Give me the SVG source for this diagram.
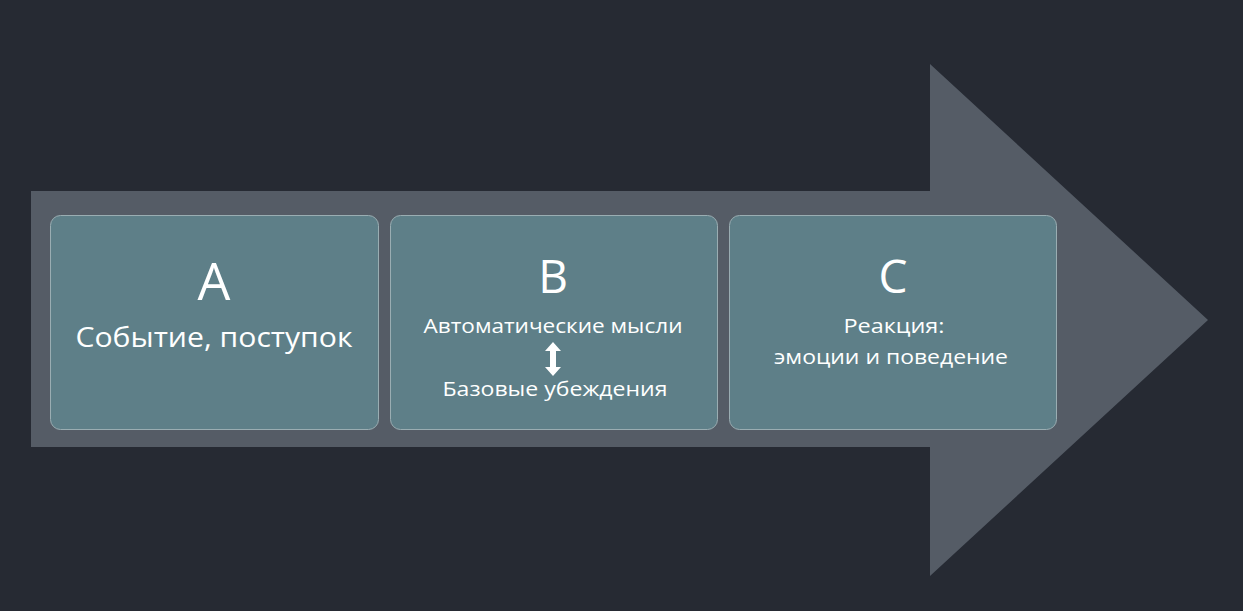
<svg xmlns="http://www.w3.org/2000/svg" width="1243" height="611" viewBox="0 0 1243 611">
<style>
.box{fill:#5e7f88;stroke:#9aadb2;stroke-width:1}
.t{fill:#ffffff;font-family:"Open Sans","Noto Sans",sans-serif;text-anchor:middle}
.bigA{font-size:52px}
.big{font-size:46px}
.mid{font-size:28px}
.sm{font-size:20px}
</style>
<rect width="1243" height="611" fill="#262a33"/>
<g id="bigArrow">
<polygon points="31,191 930,191 930,64 1208,320 930,576 930,447 31,447" fill="#555c66"/>
</g>
<g id="nodeA">
<rect class="box" x="50.5" y="215.5" width="328" height="214" rx="10"/>
<text class="t bigA" x="214" y="300">A</text>
<text class="t mid" x="214" y="347" textLength="277" lengthAdjust="spacingAndGlyphs">Событие, поступок</text>
</g>
<g id="nodeB">
<rect class="box" x="390.5" y="215.5" width="327" height="214" rx="10"/>
<text class="t big" x="553" y="293">B</text>
<text class="t sm" x="553" y="333" textLength="259" lengthAdjust="spacingAndGlyphs">Автоматические мысли</text>
<path d="M553,342 L561,351 L556,351 L556,367 L561,367 L553,376 L545,367 L550,367 L550,351 L545,351 Z" fill="#ffffff"/>
<text class="t sm" x="555" y="396" textLength="225" lengthAdjust="spacingAndGlyphs">Базовые убеждения</text>
</g>
<g id="nodeC">
<rect class="box" x="729.5" y="215.5" width="327" height="214" rx="10"/>
<text class="t big" x="893" y="293">C</text>
<text class="t sm" x="894" y="333" textLength="101" lengthAdjust="spacingAndGlyphs">Реакция:</text>
<text class="t sm" x="891" y="364" textLength="234" lengthAdjust="spacingAndGlyphs">эмоции и поведение</text>
</g>
<g id="connectors"></g>
</svg>
